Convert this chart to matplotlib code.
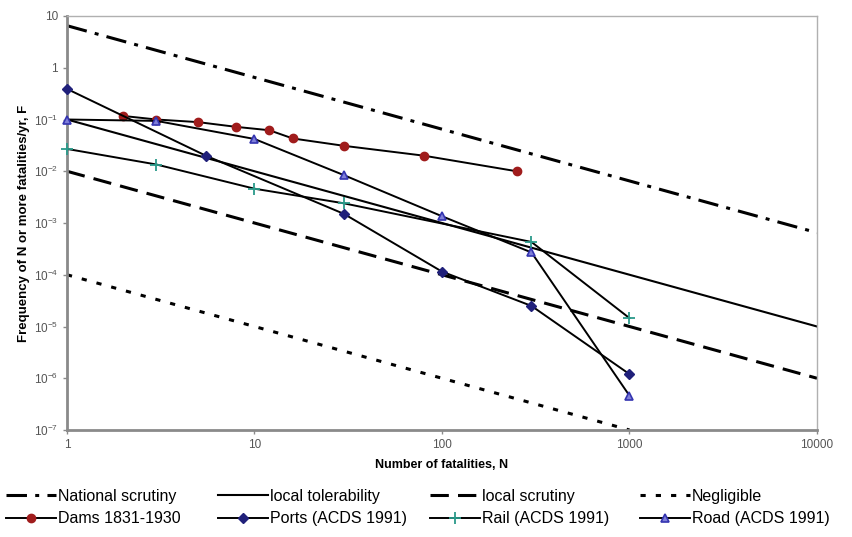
import matplotlib
matplotlib.use("Agg")
import matplotlib.pyplot as plt
import matplotlib.ticker as mticker
import numpy as np

# criterion lines (F = a / N)
crit_names = ["National scrutiny", "local tolerability", "local scrutiny", "Negligible"]
crit_n = [[1, 10000], [1, 10000], [1, 10000], [1, 1000]]
crit_f = [[6.5, 6.5e-4], [0.1, 1e-5], [0.01, 1e-6], [1e-4, 1e-7]]

# F-N data series
dams_n = [2, 3, 5, 8, 12, 16, 30, 80, 250]
dams_f = [0.117, 0.10, 0.089, 0.072, 0.062, 0.043, 0.031, 0.020, 0.010]
ports_n = [1, 5.5, 30, 100, 300, 1000]
ports_f = [0.39, 0.020, 0.0015, 1.15e-4, 2.5e-5, 1.2e-6]
rail_n = [1, 3, 10, 30, 300, 1000]
rail_f = [0.027, 0.0135, 0.0046, 0.0024, 4.3e-4, 1.45e-5]
road_n = [1, 3, 10, 30, 100, 300, 1000]
road_f = [0.1, 0.094, 0.042, 0.0084, 0.00135, 2.7e-4, 4.6e-7]

x_ticks = [1, 10, 100, 1000, 10000]
y_ticks = [1e-7, 1e-6, 1e-5, 1e-4, 1e-3, 1e-2, 1e-1, 1, 10]

plt.rcParams["font.family"] = ["Liberation Sans", "DejaVu Sans"]
plt.rcParams["mathtext.fontset"] = "custom"
plt.rcParams["mathtext.rm"] = "Liberation Sans"
plt.rcParams["mathtext.default"] = "regular"

GREY = "#8a8a8a"
TXT = "#555555"

fig = plt.figure(figsize=(8.53, 5.37), dpi=100)
ax = fig.add_axes([67 / 853, 1 - 430 / 537, (817 - 67) / 853, (430 - 16) / 537])

crit_styles = [
    dict(lw=2.2, dashes=(6.7, 2.7, 1.3, 2.7)),
    dict(lw=1.5),
    dict(lw=2.2, dashes=(6, 3)),
    dict(lw=2.2, dashes=(1.7, 3.3)),
]
handles = []
for name, n, f, st in zip(crit_names, crit_n, crit_f, crit_styles):
    h, = ax.plot(n, f, color="black", label=name, **st)
    handles.append(h)

series = [
    ("Dams 1831-1930", dams_n, dams_f, dict(marker="o", ms=6, mfc="#a01c1c", mec="#a01c1c")),
    ("Ports (ACDS 1991)", ports_n, ports_f, dict(marker="D", ms=5, mfc="#20207a", mec="#20207a")),
    ("Rail (ACDS 1991)", rail_n, rail_f, dict(marker="+", ms=8, mew=1.3, mec="#2a9a8a")),
    ("Road (ACDS 1991)", road_n, road_f, dict(marker="^", ms=6, mfc="#7f7fd8", mec="#3434b0", mew=1.2)),
]
for name, n, f, st in series:
    h, = ax.plot(n, f, color="black", lw=1.4, label=name, zorder=3, clip_on=False, **st)
    handles.append(h)

ax.set_xscale("log")
ax.set_yscale("log")
ax.set_xlim(1, 10000)
ax.set_ylim(1e-7, 10)
ax.set_xticks(x_ticks)
ax.set_yticks(y_ticks)
ax.xaxis.set_major_formatter(mticker.FuncFormatter(lambda x, _: f"{x:g}"))


def yfmt(y, _):
    e = int(round(np.log10(y)))
    if e == 1:
        return "10"
    if e == 0:
        return "1"
    return f"$10^{{{e}}}$"


ax.yaxis.set_major_formatter(mticker.FuncFormatter(yfmt))
ax.minorticks_off()
ax.tick_params(colors=GREY, labelcolor=TXT, labelsize=8.5, length=3, width=1)
for side in ["left", "bottom"]:
    ax.spines[side].set_color(GREY)
    ax.spines[side].set_linewidth(2)
for side in ["top", "right"]:
    ax.spines[side].set_color("#b0b0b0")
    ax.spines[side].set_linewidth(1)

ax.set_xlabel("Number of fatalities, N", fontsize=9, fontweight="bold", labelpad=6)
ax.set_ylabel("Frequency of N or more fatalities/yr, F", fontsize=9.5, fontweight="bold")
ax.yaxis.set_label_coords(-0.05, 0.5)

# legend: 4 columns x 2 rows, placed as separate blocks for fixed column spacing
col_x = [6, 218, 430, 640]
for i, cx in enumerate(col_x):
    fig.legend(handles=[handles[i], handles[i + 4]], loc="upper left",
               bbox_to_anchor=(cx / 853, 1 - 489 / 537), frameon=False,
               fontsize=11.5, handlelength=3.1, handletextpad=0.15,
               borderpad=0, borderaxespad=0, labelspacing=0.45)

fig.savefig("out.png", dpi=100)
